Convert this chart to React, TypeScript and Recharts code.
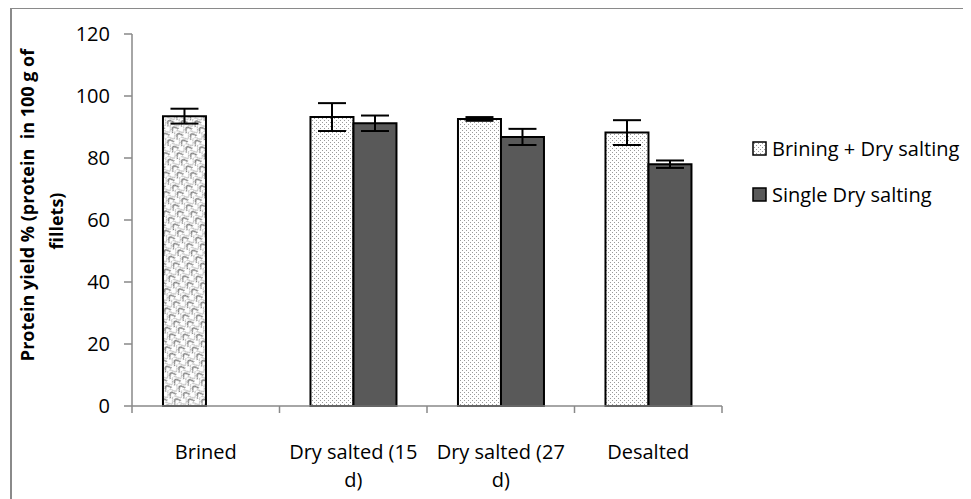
import React from "react";
import { BarChart, Bar, XAxis, YAxis, ErrorBar, Cell } from "recharts";

const CATEGORIES = ["Brined", "Dry salted (15 d)", "Dry salted (27 d)", "Desalted"];
const BRINING_DRY = [93.5, 93.2, 92.6, 88.2];
const BRINING_DRY_ERR = [2.4, 4.5, 0.6, 4.0];
const SINGLE_DRY = [null, 91.2, 86.8, 78.0];
const SINGLE_DRY_ERR = [null, 2.5, 2.6, 1.2];
const Y_TICKS = [0, 20, 40, 60, 80, 100, 120];
const BRINED = "Brined";
const SERIES_A = "Brining + Dry salting";
const SERIES_B = "Single Dry salting";

const data = CATEGORIES.map((name, i) => ({
  name,
  a: BRINING_DRY[i],
  aErr: BRINING_DRY_ERR[i],
  b: SINGLE_DRY[i],
  bErr: SINGLE_DRY_ERR[i],
}));

const FONT = "'Open Sans', sans-serif";
const AXIS = "#898989";
const DARK = "#595959";

function wrap(label: string, max = 14): string[] {
  const lines: string[] = [];
  let cur = "";
  for (const w of label.split(" ")) {
    const next = cur ? cur + " " + w : w;
    if (next.length > max && cur) {
      lines.push(cur);
      cur = w;
    } else cur = next;
  }
  if (cur) lines.push(cur);
  return lines;
}

function CategoryTick(props: any) {
  const { x, y, payload, index, visibleTicksCount } = props;
  const half = payload.offset ?? 0;
  const lines = wrap(String(payload.value));
  return (
    <g>
      <line x1={x - half} x2={x - half} y1={y} y2={y + 7} stroke={AXIS} strokeWidth={1.5} />
      {index === visibleTicksCount - 1 && (
        <line x1={x + half} x2={x + half} y1={y} y2={y + 7} stroke={AXIS} strokeWidth={1.5} />
      )}
      <text x={x} y={y + 53} textAnchor="middle" fontFamily={FONT} fontSize={20} fill="#000">
        {lines.map((l, i) => (
          <tspan key={i} x={x} dy={i === 0 ? 0 : 28}>
            {l}
          </tspan>
        ))}
      </text>
    </g>
  );
}

function YTitle(props: any) {
  const { viewBox } = props;
  const cy = viewBox.y + viewBox.height / 2;
  return (
    <g fontFamily={FONT} fontSize={18} fontWeight="bold" fill="#000">
      <text transform={`translate(34,${cy - 15}) rotate(-90)`} textAnchor="middle">
        Protein yield % (protein&#160; in 100 g of
      </text>
      <text transform={`translate(63,${cy + 1}) rotate(-90)`} textAnchor="middle">
        fillets)
      </text>
    </g>
  );
}

function LegendBox() {
  const items = [
    { label: SERIES_A, fill: "url(#dots)" },
    { label: SERIES_B, fill: DARK },
  ];
  return (
    <div style={{ position: "absolute", left: 752, top: 134, fontFamily: FONT, fontSize: 20, color: "#000" }}>
      {items.map((it) => (
        <div key={it.label} style={{ display: "flex", alignItems: "center", height: 28, marginBottom: 18 }}>
          <svg width={15} height={15} style={{ marginRight: 5 }}>
            <rect x={1} y={1} width={13} height={13} fill={it.fill} stroke="#000" strokeWidth={1.5} />
          </svg>
          <span style={{ whiteSpace: "nowrap" }}>{it.label}</span>
        </div>
      ))}
    </div>
  );
}

export default function App() {
  return (
    <div style={{ position: "relative", width: 971, height: 499, margin: "-8px 0 0 -8px", overflow: "hidden", background: "#fff" }}>
      <div
        style={{
          position: "absolute",
          left: 10,
          top: 7,
          width: 2000,
          height: 2000,
          borderLeft: "2px solid #8a8a8a",
          borderTop: "2px solid #8a8a8a",
        }}
      />
      <div style={{ position: "absolute", left: 0, top: 0 }}>
        <BarChart
          width={971}
          height={499}
          data={data}
          margin={{ top: 34, right: 249, bottom: 13, left: 72 }}
          barCategoryGap="21%"
          barGap={0}
        >
          <defs>
            <pattern id="dots" width="4" height="4" patternUnits="userSpaceOnUse">
              <rect width="4" height="4" fill="#fff" />
              <rect x="0" y="0" width="1" height="1" fill="#9a9a9a" />
              <rect x="2" y="2" width="1" height="1" fill="#9a9a9a" />
            </pattern>
            <pattern id="wave" width="11" height="8" patternUnits="userSpaceOnUse" patternTransform="rotate(-35)">
              <rect width="11" height="8" fill="#fff" />
              <path d="M0 6.5 Q2.75 0.5 5.5 6.5 T11 6.5" fill="none" stroke="#7d7d7d" strokeWidth="1.3" />
              <path d="M0 2.5 Q2.75 -3.5 5.5 2.5 T11 2.5" fill="none" stroke="#a0a0a0" strokeWidth="0.9" />
            </pattern>
          </defs>
          <XAxis
            dataKey="name"
            axisLine={{ stroke: AXIS, strokeWidth: 1.5 }}
            tickLine={false}
            tickSize={0}
            tickMargin={0}
            height={80}
            interval={0}
            tick={<CategoryTick />}
          />
          <YAxis
            domain={[0, 120]}
            ticks={Y_TICKS}
            width={60}
            axisLine={{ stroke: AXIS, strokeWidth: 1.5 }}
            tickLine={{ stroke: AXIS, strokeWidth: 1.5 }}
            tickSize={8}
            tickMargin={14}
            tick={{ fontFamily: FONT, fontSize: 20, fill: "#000" }}
            label={{ content: <YTitle /> }}
          />
          <Bar dataKey="a" name={SERIES_A} fill="url(#dots)" stroke="#000" strokeWidth={2} isAnimationActive={false}>
            {data.map((d) => (
              <Cell key={d.name} fill={d.name === BRINED ? "url(#wave)" : "url(#dots)"} />
            ))}
            <ErrorBar dataKey="aErr" width={14} stroke="#000" strokeWidth={2} />
          </Bar>
          <Bar dataKey="b" name={SERIES_B} fill={DARK} stroke="#000" strokeWidth={2} isAnimationActive={false}>
            <ErrorBar dataKey="bErr" width={14} stroke="#000" strokeWidth={2} />
          </Bar>
        </BarChart>
      </div>
      <LegendBox />
    </div>
  );
}
